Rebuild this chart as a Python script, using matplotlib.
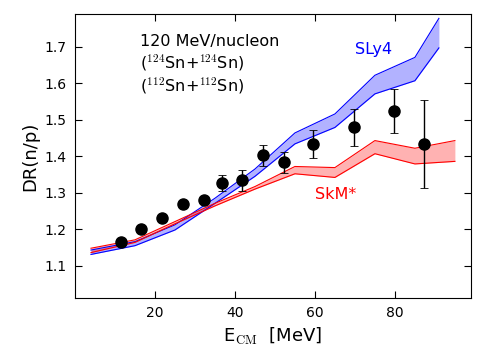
import matplotlib
matplotlib.use("Agg")
import matplotlib.pyplot as plt
import numpy as np

plt.rcParams['mathtext.fontset'] = 'cm'
plt.rcParams['mathtext.rm'] = 'serif'

# Data points
e_cm = [11.5, 16.5, 21.75, 27.0, 32.2, 36.75, 41.8, 46.9, 52.2, 59.6, 69.7, 79.8, 87.2]
dr = [1.164, 1.201, 1.230, 1.269, 1.281, 1.326, 1.334, 1.403, 1.384, 1.434, 1.479, 1.524, 1.434]
dr_err = [0.0, 0.0, 0.0, 0.0, 0.0, 0.022, 0.029, 0.029, 0.029, 0.039, 0.05, 0.06, 0.12]

# SLy4 band
sly4_x = [4, 15, 25, 35, 45, 55, 65, 75, 85, 91]
sly4_hi = [1.143, 1.166, 1.212, 1.285, 1.365, 1.464, 1.516, 1.622, 1.671, 1.778]
sly4_lo = [1.131, 1.155, 1.198, 1.271, 1.345, 1.434, 1.479, 1.571, 1.607, 1.697]

# SkM* band
skm_x = [4, 15, 25, 35, 45, 55, 65, 75, 85, 95]
skm_hi = [1.148, 1.171, 1.221, 1.271, 1.317, 1.372, 1.369, 1.443, 1.422, 1.443]
skm_lo = [1.136, 1.164, 1.215, 1.264, 1.310, 1.352, 1.342, 1.407, 1.379, 1.386]

fig = plt.figure(figsize=(4.9, 3.58), dpi=100)
ax = fig.add_axes([0.153, 0.168, 0.808, 0.793])

ax.fill_between(sly4_x, sly4_lo, sly4_hi, color='#0000ff', alpha=0.3, lw=0)
ax.plot(sly4_x, sly4_hi, color='#0000ff', lw=0.8)
ax.plot(sly4_x, sly4_lo, color='#0000ff', lw=0.8)

ax.fill_between(skm_x, skm_lo, skm_hi, color='#ff0000', alpha=0.3, lw=0)
ax.plot(skm_x, skm_hi, color='#ff0000', lw=0.8)
ax.plot(skm_x, skm_lo, color='#ff0000', lw=0.8)

ax.errorbar(e_cm, dr, yerr=dr_err, fmt='o', color='black', ms=8,
            ecolor='black', elinewidth=1, capsize=3, capthick=0.6, zorder=5)

ax.set_xlim(0, 99)
ax.set_ylim(1.012, 1.79)
ax.set_xticks([20, 40, 60, 80])
ax.set_yticks([1.1, 1.2, 1.3, 1.4, 1.5, 1.6, 1.7])
ax.tick_params(direction='in', top=True, right=True, length=5, labelsize=10, pad=6)

ax.set_xlabel(r'E$_{\rm CM}$  [MeV]', fontsize=13)
ax.set_ylabel('DR(n/p)', fontsize=13)

ax.text(16.2, 1.650, '120 MeV/nucleon\n($^{124}$Sn+$^{124}$Sn)\n($^{112}$Sn+$^{112}$Sn)',
        fontsize=11.5, va='center', ha='left', linespacing=1.2)
ax.text(70, 1.693, 'SLy4', color='#0000ff', fontsize=11.5, va='center', ha='left')
ax.text(60, 1.294, 'SkM*', color='#ff0000', fontsize=11.5, va='center', ha='left')

fig.savefig('out.png', dpi=100)
